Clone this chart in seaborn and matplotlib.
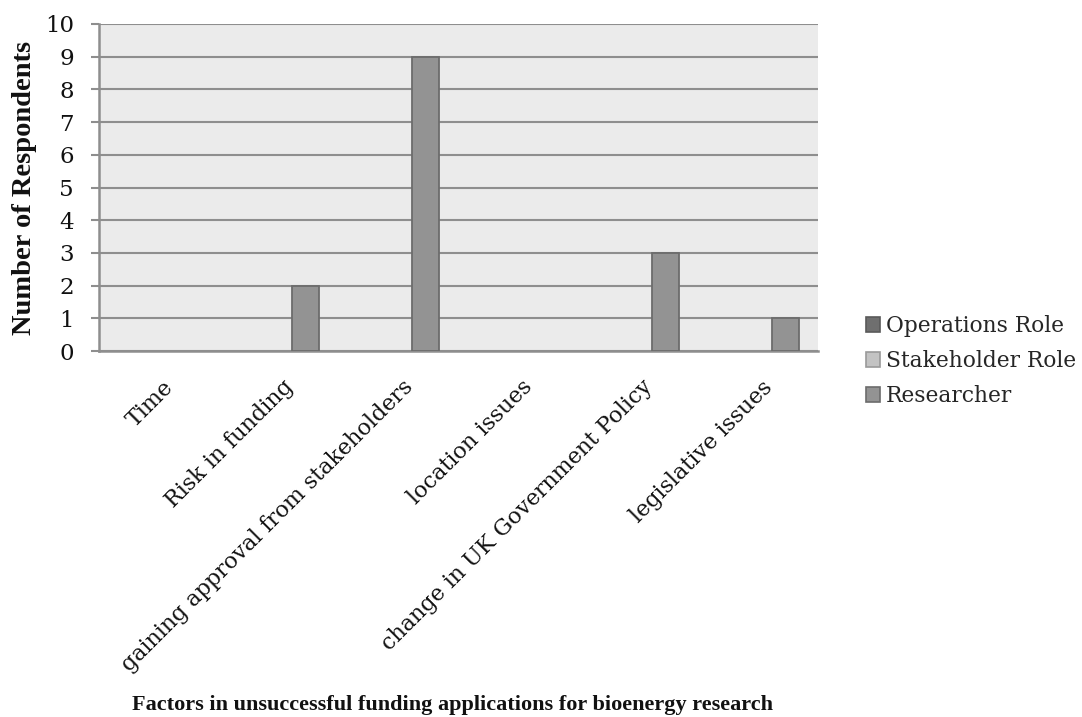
import matplotlib
matplotlib.use("Agg")
import matplotlib.pyplot as plt
from matplotlib.patches import Patch
from matplotlib.transforms import ScaledTranslation
import numpy as np
import pandas as pd
import seaborn as sns

# Survey responses: factors behind unsuccessful bioenergy funding applications
factors = [
    "Time",
    "Risk in funding",
    "gaining approval from stakeholders",
    "location issues",
    "change in UK Government Policy",
    "legislative issues",
]
roles = ["Operations Role", "Stakeholder Role", "Researcher"]
operations_role = [0, 0, 0, 0, 0, 0]
stakeholder_role = [0, 0, 0, 0, 0, 0]
researcher = [0, 2, 9, 0, 3, 1]
y_ticks = [0, 1, 2, 3, 4, 5, 6, 7, 8, 9, 10]

role_colors = ["#6f6f6f", "#c3c3c3", "#939393"]
edge_colors = ["#5a5a5a", "#9a9a9a", "#6c6c6c"]

df = pd.DataFrame({
    "factor": factors * 3,
    "role": [roles[0]] * 6 + [roles[1]] * 6 + [roles[2]] * 6,
    "count": operations_role + stakeholder_role + researcher,
})

sns.set_theme(style="white")
plt.rcParams["font.family"] = ["DejaVu Serif"]
title_family = ["Liberation Serif", "DejaVu Serif"]

W, H = 1082, 717
fig = plt.figure(figsize=(W / 100, H / 100), dpi=100)
ax = fig.add_axes([99 / W, 1 - 351 / H, (818 - 99) / W, (351 - 24) / H])
ax.set_facecolor("#ebebeb")

sns.barplot(
    data=df, x="factor", y="count", hue="role", order=factors,
    hue_order=roles, palette=role_colors, width=0.675, dodge=True,
    errorbar=None, ax=ax, legend=False, zorder=3,
)
# bar outlines per series; zero-height bars stay invisible
for container, ec in zip(ax.containers, edge_colors):
    for bar in container:
        if bar.get_height() > 0:
            bar.set_edgecolor(ec)
            bar.set_linewidth(1.3)
        else:
            bar.set_visible(False)

ax.set_xlim(-0.5, len(factors) - 0.5)
ax.set_ylim(0, 10)
ax.set_yticks(y_ticks)
ax.yaxis.grid(True, color="#8e8e8e", linewidth=1.5, zorder=0)
ax.set_axisbelow(True)

for side in ["top", "right"]:
    ax.spines[side].set_visible(False)
for side in ["left", "bottom"]:
    ax.spines[side].set_color("#8e8e8e")
    ax.spines[side].set_linewidth(1.8)

ax.tick_params(axis="y", length=6, width=1.5, color="#8e8e8e", pad=12,
               labelsize=16.5, labelcolor="#111111", left=True)
ax.tick_params(axis="x", length=0, pad=18, labelsize=16,
               labelcolor="#111111")
ax.set_xticks(range(len(factors)))
ax.set_xticklabels(factors, rotation=45, ha="right", rotation_mode="anchor")
nudge = ScaledTranslation(3 / 100, 0, fig.dpi_scale_trans)
for lbl in ax.get_xticklabels():
    lbl.set_transform(lbl.get_transform() + nudge)

ax.set_ylabel("Number of Respondents", fontsize=20.5, fontweight="bold",
              family=title_family, color="#111111")
ax.yaxis.set_label_coords(-0.086, 0.5)
ax.set_xlabel("Factors in unsuccessful funding applications for bioenergy research",
              fontsize=16, fontweight="bold", family=title_family,
              color="#111111")
ax.xaxis.set_label_coords(0.491, -1.052)

handles = [Patch(facecolor=c, edgecolor=e, linewidth=1.2)
           for c, e in zip(role_colors, edge_colors)]
fig.legend(handles, roles, loc="upper left",
           bbox_to_anchor=(866 / W, 1 - 315 / H), frameon=False,
           fontsize=15.7, handlelength=0.65, handleheight=0.65,
           handletextpad=0.25, labelspacing=0.6, borderaxespad=0,
           borderpad=0)

fig.savefig("out.png", dpi=100, facecolor="white")
